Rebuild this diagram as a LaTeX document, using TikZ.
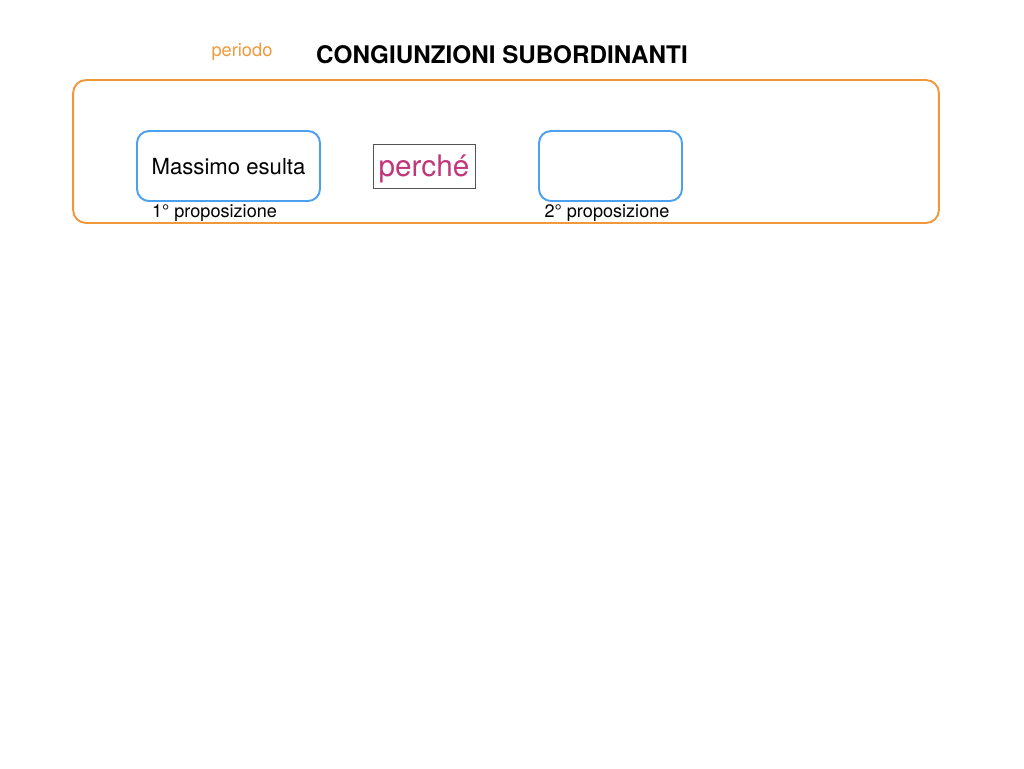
\documentclass[tikz,border=0pt]{standalone}
\usepackage{fontspec}
\setmainfont{TeX Gyre Heros}
\definecolor{periodorange}{HTML}{F0993A}
\definecolor{propblue}{HTML}{4DA0F0}
\definecolor{conjpink}{HTML}{C0367A}
\definecolor{framegray}{HTML}{555555}
\tikzset{
  propbox/.style={draw=propblue, line width=1.1pt, rounded corners=0.24cm, minimum width=3.66cm, minimum height=1.4cm, inner sep=0pt, text depth=0pt, font=\fontsize{12.6}{14}\selectfont},
  conjbox/.style={draw=framegray, line width=0.5pt, minimum width=2.04cm, minimum height=0.88cm, inner sep=0pt, text depth=0pt, text=conjpink, font=\fontsize{16.9}{19}\selectfont},
  proplabel/.style={font=\fontsize{10.3}{12}\selectfont}
}
\begin{document}
\begin{tikzpicture}[x=0.02cm, y=-0.02cm]
  \useasboundingbox (0,0) rectangle (1024,768);
  % Titolo
  \node[text=periodorange, font=\fontsize{10.4}{12}\selectfont] (periodo) at (242,52) {periodo};
  \node[font=\fontsize{13.8}{16}\selectfont\bfseries] (titolo) at (502,55) {CONGIUNZIONI SUBORDINANTI};
  % Cornice del periodo
  \node[draw=periodorange, line width=1.1pt, rounded corners=0.26cm, minimum width=17.32cm, minimum height=2.86cm] (cornice) at (506,151.5) {};
  % Proposizioni
  \node[propbox] (prima) at (228.5,166) {Massimo esulta};
  \node[conjbox] (perche) at (424,166) {perché};
  \node[propbox, minimum width=2.86cm] (seconda) at (610.5,166) {};
  % Etichette
  \node[proplabel] (lprima) at (214.5,213) {1° proposizione};
  \node[proplabel] (lseconda) at (607,213) {2° proposizione};
\end{tikzpicture}
\end{document}
